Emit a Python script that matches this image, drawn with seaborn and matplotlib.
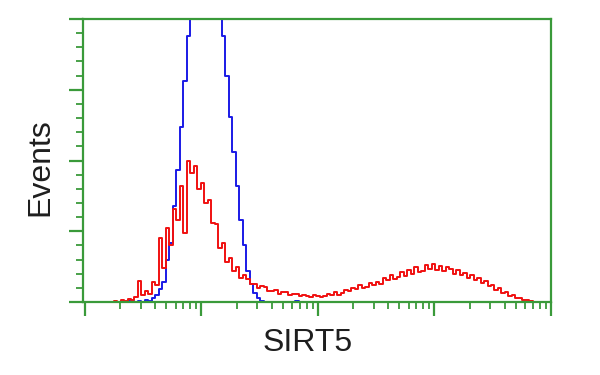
import numpy as np
import pandas as pd
import matplotlib
matplotlib.use("Agg")
import matplotlib.pyplot as plt
import seaborn as sns

# ---- data (log10 fluorescence bins, event counts) ----
bin_start = 0.2      # log10 of first bin centre
bin_step = 0.03      # bin width in decades

red_counts = [
    0, 0, 0.7, 0, 1.4, 0.7, 2.1, 1.4, 3.5, 15,
    5, 8, 6, 14, 12, 45, 24, 52, 40, 66,
    58, 82, 49, 100, 91, 96, 80, 84, 70, 72,
    56, 55, 38, 42, 28, 31, 22, 25, 17, 19,
    16.5, 12.6, 12.4, 9.6, 11.0, 10.8, 7.8, 7.7, 8.4, 5.8,
    7.0, 6.9, 4.9, 6.0, 5.6, 4.1, 5.3, 4.0, 3.6, 4.9,
    4.5, 3.5, 4.2, 5.8, 4.6, 6.9, 5.2, 6.4, 8.8, 7.6,
    10.0, 8.9, 11.8, 10.2, 10.9, 13.6, 11.7, 14.3, 12.9, 16.8,
    15.4, 18.9, 16.6, 17.8, 21.3, 18.6, 22.4, 20.1, 24.6, 21.3,
    22.0, 26.4, 23.1, 27.0, 22.9, 25.2, 21.8, 24.6, 23.5, 19.9,
    22.6, 18.9, 20.8, 17.2, 19.4, 15.3, 16.9, 13.2, 14.6, 11.0,
    12.3, 8.7, 9.6, 6.5, 6.9, 4.1, 5.0, 2.9, 3.1, 1.5,
    1.6, 0.5, 0, 0, 0,
]

blue_counts = [
    0, 0, 0, 0, 0, 0, 0.7, 0.7, 0, 0.7,
    0, 1.4, 1, 2.8, 5, 9, 14, 30, 42, 68,
    93, 124, 156, 188, 225, 265, 295, 310, 305, 290,
    265, 238, 212, 188, 160, 131, 106, 82, 58, 40,
    22, 13, 6.4, 2.8, 1, 0, 0, 0, 0, 0,
    0, 0, 0, 0, 0.7, 0, 0, 0, 0, 0,
]

x_label = "SIRT5"
y_label = "Events"

# ---- build tables ----
red_x = bin_start + bin_step * np.arange(len(red_counts))
blue_x = bin_start + bin_step * np.arange(len(blue_counts))
df = pd.concat([
    pd.DataFrame({"logfl": blue_x, "count": blue_counts, "sample": "control"}),
    pd.DataFrame({"logfl": red_x, "count": red_counts, "sample": "SIRT5"}),
], ignore_index=True)

sns.set_theme(style="white")
plt.rcParams["font.family"] = ["Liberation Sans", "DejaVu Sans"]

fig = plt.figure(figsize=(6, 3.75), dpi=100)
ax = fig.add_axes([83 / 600, 1 - 302 / 375, (551 - 83) / 600, (302 - 19) / 375])

sns.lineplot(data=df, x="logfl", y="count", hue="sample",
             palette={"control": "#1a1ae6", "SIRT5": "#f01010"},
             hue_order=["control", "SIRT5"],
             drawstyle="steps-mid", linewidth=1.4, estimator=None,
             legend=False, ax=ax)

green = "#3a9a3a"
for s in ax.spines.values():
    s.set_color(green)
    s.set_linewidth(1.6)
    s.set_visible(True)

ax.set_xlim(-0.017, 4.0)
ax.set_ylim(0, 200)

# x: log decades with minor ticks
major_x = [0, 1, 2, 3, 4]
minor_x = [d + np.log10(k) for d in range(4) for k in range(2, 10)]
ax.set_xticks(major_x)
ax.set_xticks(minor_x, minor=True)
ax.set_yticks([0, 50, 100, 150, 200])
ax.set_yticks([v for v in range(0, 201, 10) if v % 50], minor=True)
ax.tick_params(axis="both", which="major", direction="out", length=10,
               width=1.6, color=green, labelbottom=False, labelleft=False,
               bottom=True, left=True, top=False, right=False)
ax.tick_params(axis="both", which="minor", direction="out", length=5,
               width=1.3, color=green, bottom=True, left=True,
               top=False, right=False)

ax.set_xlabel("")
ax.set_ylabel("")
fig.text(308 / 600, 1 - 343 / 375, x_label, ha="center", va="center",
         fontsize=23, color="#1e1e1e")
fig.text(40 / 600, 1 - 167 / 375, y_label, ha="center", va="center",
         rotation=90, fontsize=23, color="#1e1e1e")

fig.savefig("out.png", dpi=100, facecolor="white")
